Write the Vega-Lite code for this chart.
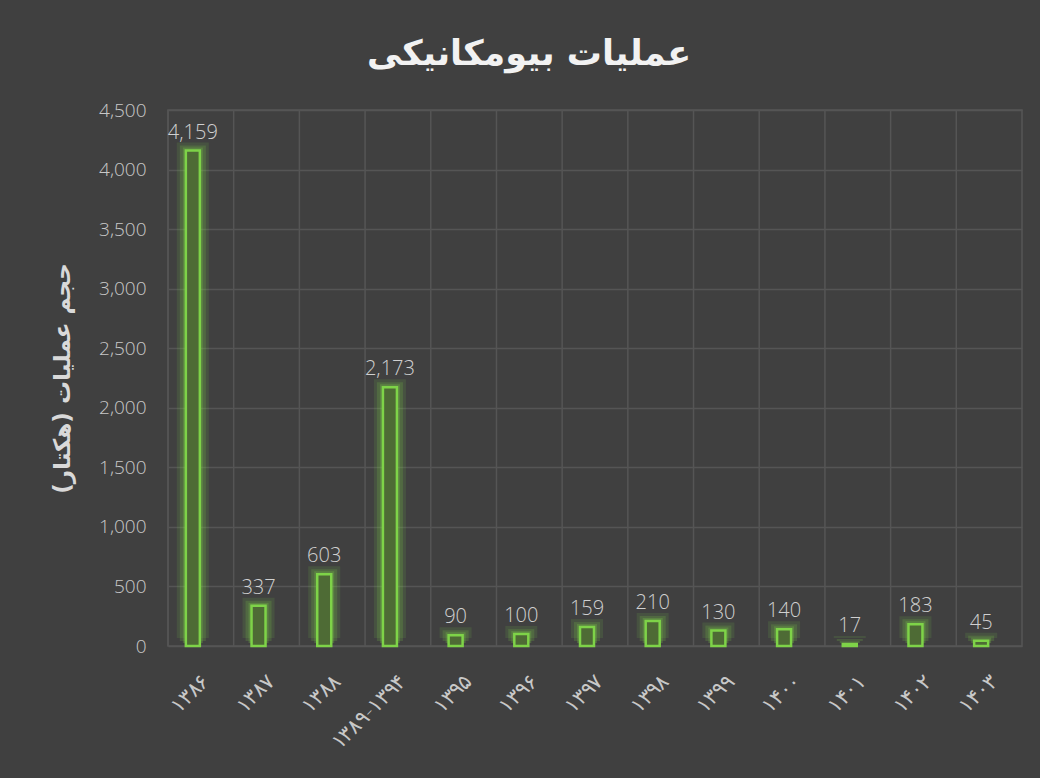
{
  "$schema": "https://vega.github.io/schema/vega-lite/v6.json",
  "width": 854,
  "height": 536,
  "autosize": {"type": "none"},
  "padding": {"left": 168, "top": 110, "right": 18, "bottom": 132},
  "background": "#404040",
  "title": {
    "text": "عملیات بیومکانیکی",
    "font": "DejaVu Sans",
    "fontSize": 35,
    "fontWeight": "bold",
    "color": "#f2f2f2",
    "anchor": "middle",
    "dx": -66,
    "offset": 29
  },
  "config": {
    "view": {"stroke": "#555555", "strokeWidth": 1.5},
    "font": "Open Sans"
  },
  "data": {
    "values": [
      {"year": "۱۳۸۶", "value": 4159},
      {"year": "۱۳۸۷", "value": 337},
      {"year": "۱۳۸۸", "value": 603},
      {"year": "۱۳۸۹-۱۳۹۴", "value": 2173},
      {"year": "۱۳۹۵", "value": 90},
      {"year": "۱۳۹۶", "value": 100},
      {"year": "۱۳۹۷", "value": 159},
      {"year": "۱۳۹۸", "value": 210},
      {"year": "۱۳۹۹", "value": 130},
      {"year": "۱۴۰۰", "value": 140},
      {"year": "۱۴۰۱", "value": 17},
      {"year": "۱۴۰۲", "value": 183},
      {"year": "۱۴۰۳", "value": 45}
    ]
  },
  "layer": [
    {
      "mark": {"type": "rule", "color": "#555555", "strokeWidth": 1.5},
      "encoding": {
        "x": {"field": "year", "type": "nominal", "sort": null, "bandPosition": 0}
      }
    },
    {
      "mark": {"type": "bar", "color": "#7ed348", "opacity": 0.12, "width": 32, "xOffset": -8, "yOffset": -8},
      "encoding": {
        "x": {"field": "year", "type": "nominal", "sort": null},
        "y": {"field": "value", "type": "quantitative"}
      }
    },
    {
      "mark": {"type": "bar", "color": "#7ed348", "opacity": 0.18, "width": 26, "xOffset": -8, "yOffset": -5},
      "encoding": {
        "x": {"field": "year", "type": "nominal", "sort": null},
        "y": {"field": "value", "type": "quantitative"}
      }
    },
    {
      "mark": {"type": "bar", "color": "#7ed348", "opacity": 0.25, "width": 20, "xOffset": -8, "yOffset": -3},
      "encoding": {
        "x": {"field": "year", "type": "nominal", "sort": null},
        "y": {"field": "value", "type": "quantitative"}
      }
    },
    {
      "mark": {"type": "bar", "fill": "#4e6b35", "stroke": "#7ed348", "strokeWidth": 2.5, "width": 14, "xOffset": -8},
      "encoding": {
        "x": {
          "field": "year",
          "type": "nominal",
          "sort": null,
          "scale": {"paddingInner": 0, "paddingOuter": 0},
          "axis": {
            "title": null,
            "labelAngle": -45,
            "labelAlign": "right",
            "labelBaseline": "middle",
            "labelPadding": 32,
            "labelOffset": 5,
            "labelFontSize": 21,
            "labelFontWeight": 200,
            "labelColor": "#c8c8c8",
            "labelFont": "DejaVu Sans",
            "ticks": false,
            "domain": false,
            "grid": false
          }
        },
        "y": {
          "field": "value",
          "type": "quantitative",
          "scale": {"domain": [0, 4500]},
          "axis": {
            "values": [0, 500, 1000, 1500, 2000, 2500, 3000, 3500, 4000, 4500],
            "format": ",.0f",
            "title": "حجم عملیات (هکتار)",
            "titleFont": "DejaVu Sans",
            "titleFontSize": 23,
            "titleFontWeight": "bold",
            "titleColor": "#d9d9d9",
            "titlePadding": 24,
            "labelFontSize": 19,
            "labelFontWeight": 300,
            "labelColor": "#c8c8c8",
            "labelPadding": 22,
            "ticks": false,
            "domain": false,
            "gridColor": "#555555",
            "gridWidth": 1.5
          }
        }
      }
    },
    {
      "mark": {"type": "text", "fontSize": 20, "fontWeight": 300, "color": "#d0d0d0", "baseline": "alphabetic", "dy": -12, "xOffset": -8},
      "encoding": {
        "x": {"field": "year", "type": "nominal", "sort": null},
        "y": {"field": "value", "type": "quantitative"},
        "text": {"field": "value", "type": "quantitative", "format": ",.0f"}
      }
    }
  ]
}
